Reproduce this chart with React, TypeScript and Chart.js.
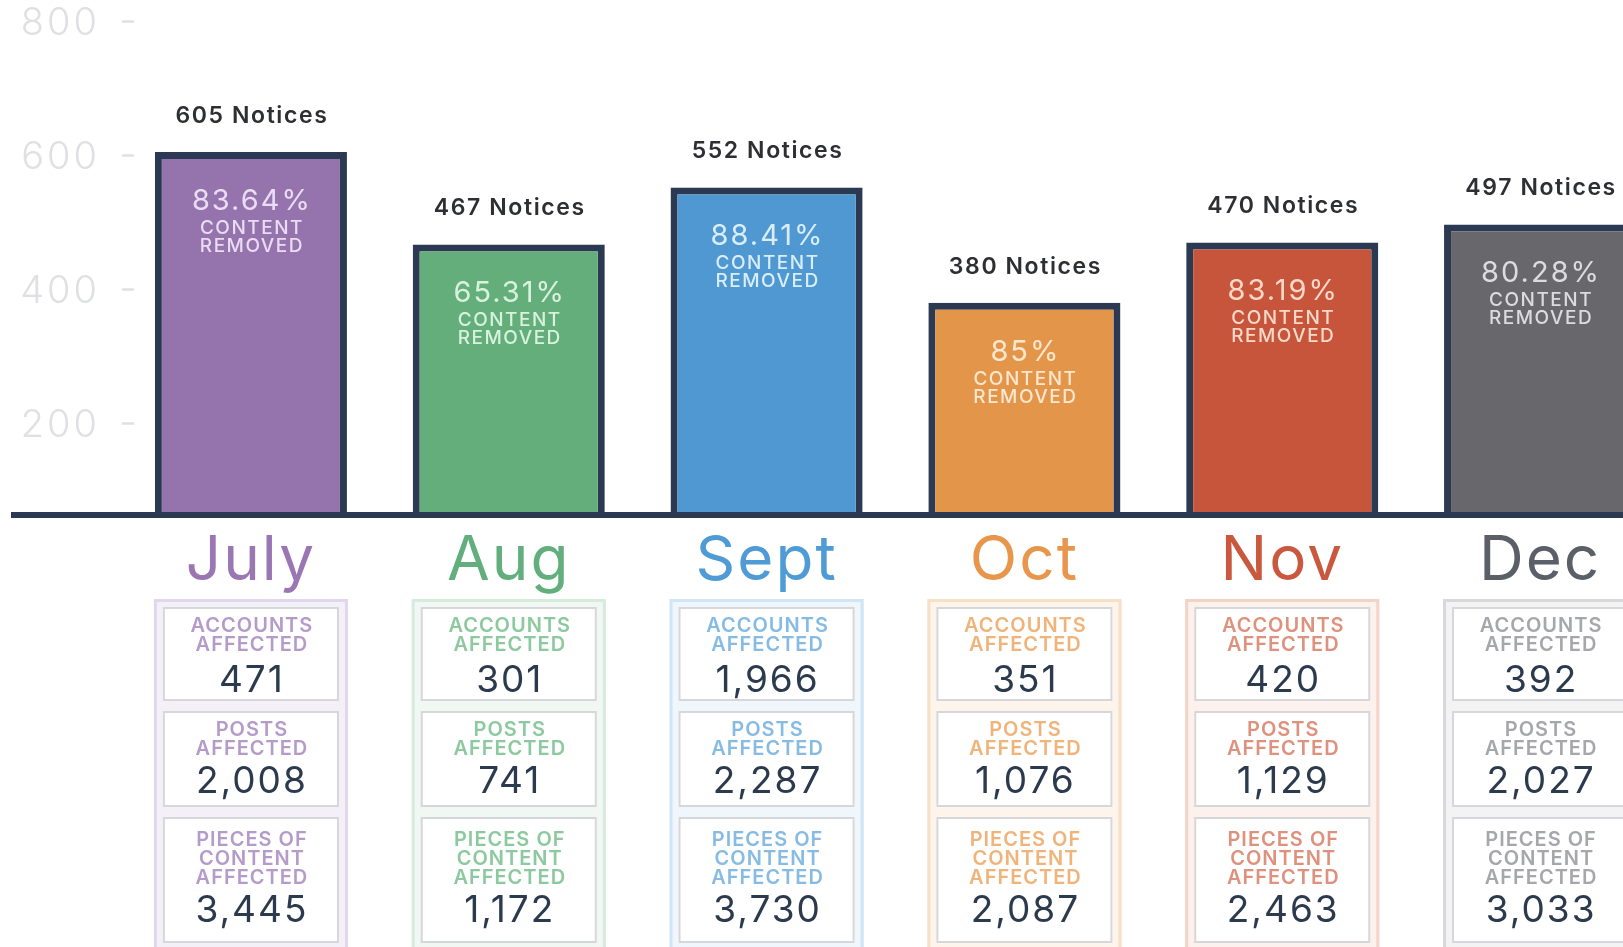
import React, { useEffect, useRef } from "react";
import { Chart, registerables } from "chart.js";

Chart.register(...registerables);

// ---------- data ----------
const MONTHS = ["July", "Aug", "Sept", "Oct", "Nov", "Dec"];
const NOTICES = [605, 467, 552, 380, 470, 497];
const REMOVED_PCT = [83.64, 65.31, 88.41, 85, 83.19, 80.28];
const ACCOUNTS = [471, 301, 1966, 351, 420, 392];
const POSTS = [2008, 741, 2287, 1076, 1129, 2027];
const PIECES = [3445, 1172, 3730, 2087, 2463, 3033];
const Y_TICKS = [200, 400, 600, 800];
const Y_MIN = 63.3;
const Y_MAX = 800;

// ---------- styles ----------
const BAR_COLORS = ["#9574ad", "#64ae7c", "#4f98d1", "#e3954a", "#c7553b", "#68686c"];
const MONTH_COLORS = ["#9a77b3", "#62ae7d", "#4f9bd6", "#e8964c", "#c9583e", "#5b5f67"];
const INNER_TEXT_COLORS = ["#eadcf3", "#d8f2dd", "#d9edfb", "#fde8cf", "#fbd9ca", "#dcdcdf"];
const BOX_FILL = ["#f4f0f8", "#f1f8f3", "#eff6fc", "#fdf5ec", "#fcf1ed", "#f3f3f4"];
const BOX_BORDER = ["#e2d6ed", "#d6ebdd", "#d0e5f5", "#f8e0c6", "#f4d3c7", "#d8d8da"];
const LABEL_COLORS = ["#b49bc9", "#8cc99f", "#86bbe3", "#f0b47a", "#de917c", "#a6a7ab"];
const AXIS_COLOR = "#2b3a52";
const VALUE_COLOR = "#2c3a4e";
const TICK_COLOR = "#dfe0e3";
const FONT = "Inter, 'Open Sans', sans-serif";

const fmt = (n: number) => n.toLocaleString("en-US");

const overlayPlugin = {
  id: "overlay",
  beforeDraw(chart: any) {
    chart.ctx.letterSpacing = "2px";
  },
  afterDatasetsDraw(chart: any) {
    const ctx = chart.ctx;
    const area = chart.chartArea;
    const meta = chart.getDatasetMeta(0);
    ctx.save();
    // baseline
    ctx.fillStyle = AXIS_COLOR;
    ctx.fillRect(11, area.bottom - 3, chart.width - 11, 6);

    ctx.textAlign = "center";
    ctx.textBaseline = "middle";
    meta.data.forEach((bar: any, i: number) => {
      const x = bar.x;
      const top = bar.y;
      ctx.fillStyle = "#2e2f33";
      ctx.font = `600 23px ${FONT}`;
      ctx.letterSpacing = "1.6px";
      ctx.fillText(`${NOTICES[i]} Notices`, x + 1, top - 36);

      ctx.fillStyle = INNER_TEXT_COLORS[i];
      ctx.font = `400 29px ${FONT}`;
      ctx.letterSpacing = "2px";
      ctx.fillText(`${REMOVED_PCT[i]}%`, x + 1, top + 49);
      ctx.font = `500 19px ${FONT}`;
      ctx.letterSpacing = "1.5px";
      ctx.fillText("CONTENT", x + 1, top + 76);
      ctx.fillText("REMOVED", x + 1, top + 94);
    });
    ctx.restore();
    // letter spacing for the y tick labels (drawn after datasets)
    ctx.letterSpacing = "3px";
  },
  afterDraw(chart: any) {
    const ctx = chart.ctx;
    const area = chart.chartArea;
    const meta = chart.getDatasetMeta(0);
    const b = area.bottom;
    ctx.save();
    ctx.textAlign = "center";
    ctx.textBaseline = "middle";
    meta.data.forEach((bar: any, i: number) => {
      const cx = bar.x;
      const w = bar.width;
      // outer box
      const ox = cx - w / 2 - 1;
      ctx.fillStyle = BOX_FILL[i];
      ctx.fillRect(ox, b + 84, w + 2, 400);
      ctx.strokeStyle = BOX_BORDER[i];
      ctx.lineWidth = 3;
      ctx.strokeRect(ox + 1.5, b + 85.5, w - 1, 400);
      // inner boxes
      const rows: [number, number][] = [
        [b + 92, b + 186],
        [b + 196, b + 292],
        [b + 302, b + 428],
      ];
      const ix = cx - w / 2 + 8;
      const iw = w - 16;
      rows.forEach(([y0, y1]) => {
        ctx.fillStyle = "#ffffff";
        ctx.fillRect(ix, y0, iw, y1 - y0);
        ctx.strokeStyle = "#d7d7db";
        ctx.lineWidth = 2;
        ctx.strokeRect(ix + 1, y0 + 1, iw - 2, y1 - y0 - 2);
      });

      const label = (text: string, y: number) => {
        ctx.fillStyle = LABEL_COLORS[i];
        ctx.font = `600 20px ${FONT}`;
        ctx.letterSpacing = "1px";
        ctx.fillText(text, cx + 1, y);
      };
      const value = (v: number, y: number) => {
        ctx.fillStyle = VALUE_COLOR;
        ctx.font = `400 37px ${FONT}`;
        ctx.letterSpacing = "2px";
        ctx.fillText(fmt(v), cx + 1, y);
      };
      label("ACCOUNTS", b + 111);
      label("AFFECTED", b + 130);
      value(ACCOUNTS[i], b + 166);
      label("POSTS", b + 215);
      label("AFFECTED", b + 234);
      value(POSTS[i], b + 267);
      label("PIECES OF", b + 325);
      label("CONTENT", b + 344);
      label("AFFECTED", b + 363);
      value(PIECES[i], b + 396);
    });
    ctx.restore();
  },
};

export default function App() {
  const canvasRef = useRef<HTMLCanvasElement | null>(null);

  useEffect(() => {
    if (!canvasRef.current) return;
    const chart = new Chart(canvasRef.current, {
      type: "bar",
      data: {
        labels: MONTHS,
        datasets: [
          {
            data: NOTICES,
            backgroundColor: BAR_COLORS,
            borderColor: AXIS_COLOR,
            borderWidth: 7,
            borderSkipped: "start",
            base: Y_MIN,
            barPercentage: 0.745,
            categoryPercentage: 1,
          } as any,
        ],
      },
      options: {
        responsive: false,
        maintainAspectRatio: false,
        animation: false,
        devicePixelRatio: 1,
        layout: { padding: { top: 21.4, left: 0, right: 31, bottom: 0 } },
        plugins: {
          legend: { display: false },
          tooltip: { enabled: false },
        },
        scales: {
          x: {
            grid: { display: false, drawTicks: false },
            border: { display: false },
            ticks: {
              autoSkip: false,
              maxRotation: 0,
              padding: 9,
              font: { family: FONT, size: 62, weight: 400, lineHeight: 1.2 },
              color: (c: any) => MONTH_COLORS[c.index] || "#666",
            },
            afterFit: (s: any) => {
              s.height = 432;
            },
          },
          y: {
            min: Y_MIN,
            max: Y_MAX,
            grid: {
              display: true,
              drawOnChartArea: false,
              drawTicks: true,
              tickLength: -12,
              tickColor: TICK_COLOR,
              tickWidth: 2.5,
            },
            border: { display: false },
            afterBuildTicks: (s: any) => {
              s.ticks = Y_TICKS.map((v) => ({ value: v }));
            },
            afterFit: (s: any) => {
              s.width = 122;
              s.paddingTop = 0;
              s.paddingBottom = 0;
            },
            ticks: {
              z: 1,
              padding: 34,
              labelOffset: 2,
              color: TICK_COLOR,
              font: { family: FONT, size: 38, weight: 300, lineHeight: 0.9 },
            },
          },
        },
      },
      plugins: [overlayPlugin],
    });
    return () => chart.destroy();
  }, []);

  return (
    <div
      style={{
        position: "absolute",
        left: 0,
        top: 0,
        width: 1623,
        height: 947,
        overflow: "hidden",
        background: "#ffffff",
      }}
    >
      <canvas
        ref={canvasRef}
        width={1700}
        height={947}
        style={{ display: "block", width: 1700, height: 947 }}
      />
    </div>
  );
}
